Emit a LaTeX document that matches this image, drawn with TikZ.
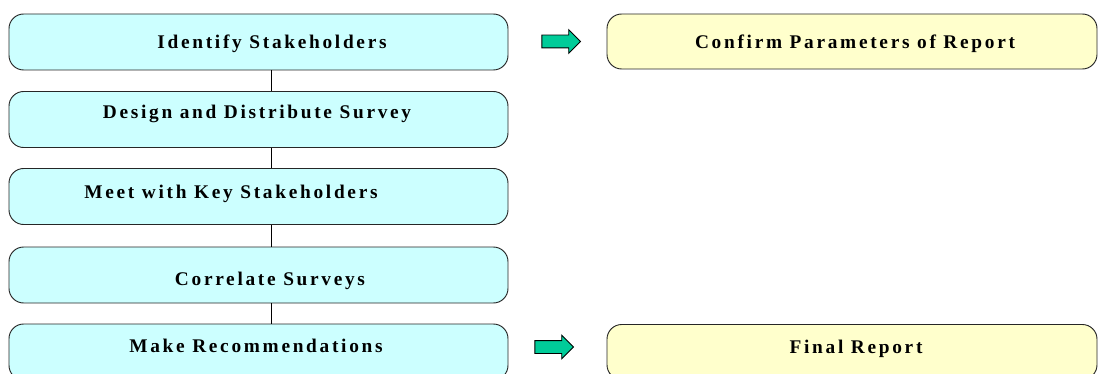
\documentclass[tikz,border=0pt]{standalone}
\usepackage{fontspec}
\newfontfamily\stagefont{Liberation Serif}[LetterSpace=14]
\usepackage{tikz}
\usetikzlibrary{shapes.arrows}
\definecolor{flowCyan}{HTML}{CCFFFF}
\definecolor{flowYellow}{HTML}{FFFFCC}
\definecolor{flowGreen}{HTML}{00CC99}

\begin{document}
\begin{tikzpicture}[
    x=0.75pt,y=-0.75pt,
    font=\stagefont\bfseries\fontsize{14.5}{16}\selectfont,
    stage/.style={draw=black!85,line width=0.7pt,fill=flowCyan,rounded corners=11pt,
                  minimum width=374.25pt,minimum height=42pt,inner sep=0pt},
    result/.style={draw=black!85,line width=0.7pt,fill=flowYellow,rounded corners=11pt,
                   minimum width=367.5pt,minimum height=41.25pt,inner sep=0pt},
    pointer/.style={single arrow,draw=black,line width=0.6pt,fill=flowGreen,
                    minimum height=29pt,inner xsep=0pt,inner ysep=4.5pt,
                    single arrow head extend=4.1pt,single arrow head indent=0pt},
    lbl/.style={inner sep=0pt,text height=9.5pt,text depth=2.5pt},
    link/.style={draw=black,line width=0.5pt}
  ]
    \useasboundingbox (0,0) rectangle (1098,374);
    \clip (0,0) rectangle (1098,374);

    \node[stage] (identify)  at (258.5,42)    {};
    \node[stage] (design)    at (258.5,119.5) {};
    \node[stage] (meet)      at (258.5,196.5) {};
    \node[stage] (correlate) at (258.5,275)   {};
    \node[stage] (recommend) at (258.5,352)   {};

    \node[result] (confirm) at (852,41.5) {};
    \node[result] (final)   at (852,352)  {};

    \node[lbl] (identifyT)  at (272,44)    {Identify Stakeholders};
    \node[lbl] (designT)    at (257,114)   {Design and Distribute Survey};
    \node[lbl] (meetT)      at (231,193.5) {Meet with Key Stakeholders};
    \node[lbl] (correlateT) at (270,281)   {Correlate Surveys};
    \node[lbl] (recommendT) at (256,348)   {Make Recommendations};
    \node[lbl] (confirmT)   at (855,44)    {Confirm Parameters of Report};
    \node[lbl] (finalT)     at (856,349)   {Final Report};

    \node[pointer] (go1) at (558,41.5) {};
    \node[pointer] (go2) at (551,347)  {};

    \draw[link] ([xshift=9.4pt]identify.south)  -- ([xshift=9.4pt]design.north);
    \draw[link] ([xshift=9.4pt]design.south)    -- ([xshift=9.4pt]meet.north);
    \draw[link] ([xshift=9.4pt]meet.south)      -- ([xshift=9.4pt]correlate.north);
    \draw[link] ([xshift=9.4pt]correlate.south) -- ([xshift=9.4pt]recommend.north);
  \end{tikzpicture}
\end{document}
